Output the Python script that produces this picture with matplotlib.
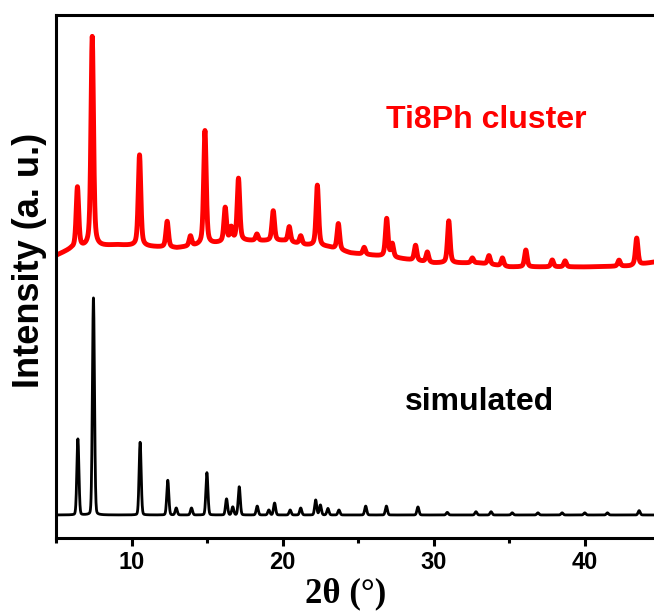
import numpy as np
import matplotlib.pyplot as plt
from matplotlib.ticker import MultipleLocator

plt.rcParams['font.family'] = ['Liberation Sans', 'DejaVu Sans']
plt.rcParams['font.weight'] = 'bold'

# simulated pattern: peak positions (2theta) and relative heights
sim_pos = [6.45, 7.48, 10.57, 12.40, 12.96, 13.97, 14.99, 16.29, 16.70, 17.13,
           18.32, 19.09, 19.47, 20.50, 21.20, 22.19, 22.50, 23.00, 23.73, 25.50,
           26.87, 28.96, 30.90, 32.80, 33.80, 35.20, 36.90, 38.50, 40.00, 41.50,
           43.60]
sim_int = [35, 100, 33.5, 16, 3.2, 3.2, 19.5, 7.4, 3.7, 13,
           4.1, 2.3, 5.5, 2.3, 3.2, 6.9, 4.6, 3.0, 2.3, 4.1,
           4.1, 3.7, 1.2, 1.5, 1.5, 1.0, 1.0, 1.0, 1.0, 1.0,
           2.0]

# measured Ti8Ph cluster pattern: peaks and background level
exp_pos = [6.42, 7.40, 10.53, 12.36, 13.90, 14.86, 16.20, 16.60, 17.08, 18.30,
           19.38, 20.44, 21.20, 22.30, 23.69, 25.40, 26.89, 27.26, 28.80, 29.58,
           31.00, 32.56, 33.66, 34.55, 36.10, 37.85, 38.70, 42.27, 43.44]
exp_int = [28, 97, 42, 12, 4.6, 52.5, 15.7, 6, 28.6, 3,
           13.8, 7, 3.7, 28, 12, 3.2, 17.5, 6, 7, 4.6,
           19.4, 2.3, 4, 3.7, 7.8, 3.2, 2.8, 2.8, 12.4]
bg_x = [5.0, 6.0, 9.0, 13.0, 17.0, 20.0, 21.5, 23.0, 24.5, 27.0, 30.0, 33.0, 35.0, 40.0, 43.0, 45.0]
bg_y = [119.5, 122.5, 124.4, 123.0, 126.3, 126.3, 124.4, 123.5, 120.7, 118.9, 116.1, 116.1, 114.3, 114.3, 114.7, 117.0]

tt = np.linspace(5, 45, 4001)


def pattern(pos, height, fwhm, eta):
    y = np.zeros_like(tt)
    for p, h in zip(pos, height):
        d = (tt - p) / (fwhm / 2)
        y += h * (eta / (1 + d ** 2) + (1 - eta) * np.exp(-np.log(2) * d ** 2))
    return y


sim = pattern(sim_pos, sim_int, 0.16, 0.1)
exp = pattern(exp_pos, exp_int, 0.20, 0.5) + np.interp(tt, bg_x, bg_y)

fig = plt.figure(figsize=(6.54, 6.14), dpi=100)
ax = fig.add_axes([0.0856, 0.1238, 0.924, 0.8518])

ax.plot(tt, sim, color='black', lw=2)
ax.plot(tt, exp, color='red', lw=3.5)

ax.set_xlim(5, 45)
ax.set_ylim(-10.6, 230.4)
ax.set_yticks([])
ax.xaxis.set_major_locator(MultipleLocator(10))
ax.xaxis.set_minor_locator(MultipleLocator(5))
ax.tick_params(axis='x', which='major', length=5.5, width=2.2, direction='out',
               labelsize=17, pad=4)
ax.tick_params(axis='x', which='minor', length=3.5, width=2.2, direction='out')
for s in ax.spines.values():
    s.set_linewidth(2.2)
ax.spines['right'].set_visible(False)

ax.text(33.5, 182, 'Ti8Ph cluster', color='red', fontsize=23, ha='center', va='center')
ax.text(33.05, 52, 'simulated', color='black', fontsize=23, ha='center', va='center')

ax.set_ylabel('Intensity (a. u.)', fontsize=26, fontweight='bold')
ax.yaxis.set_label_coords(-0.015, 0.53)
ax.set_xlabel('2θ (°)', family='Liberation Serif', fontsize=25, fontweight='bold')
ax.xaxis.set_label_coords(0.48, -0.075)

fig.savefig('out.png', dpi=100)
